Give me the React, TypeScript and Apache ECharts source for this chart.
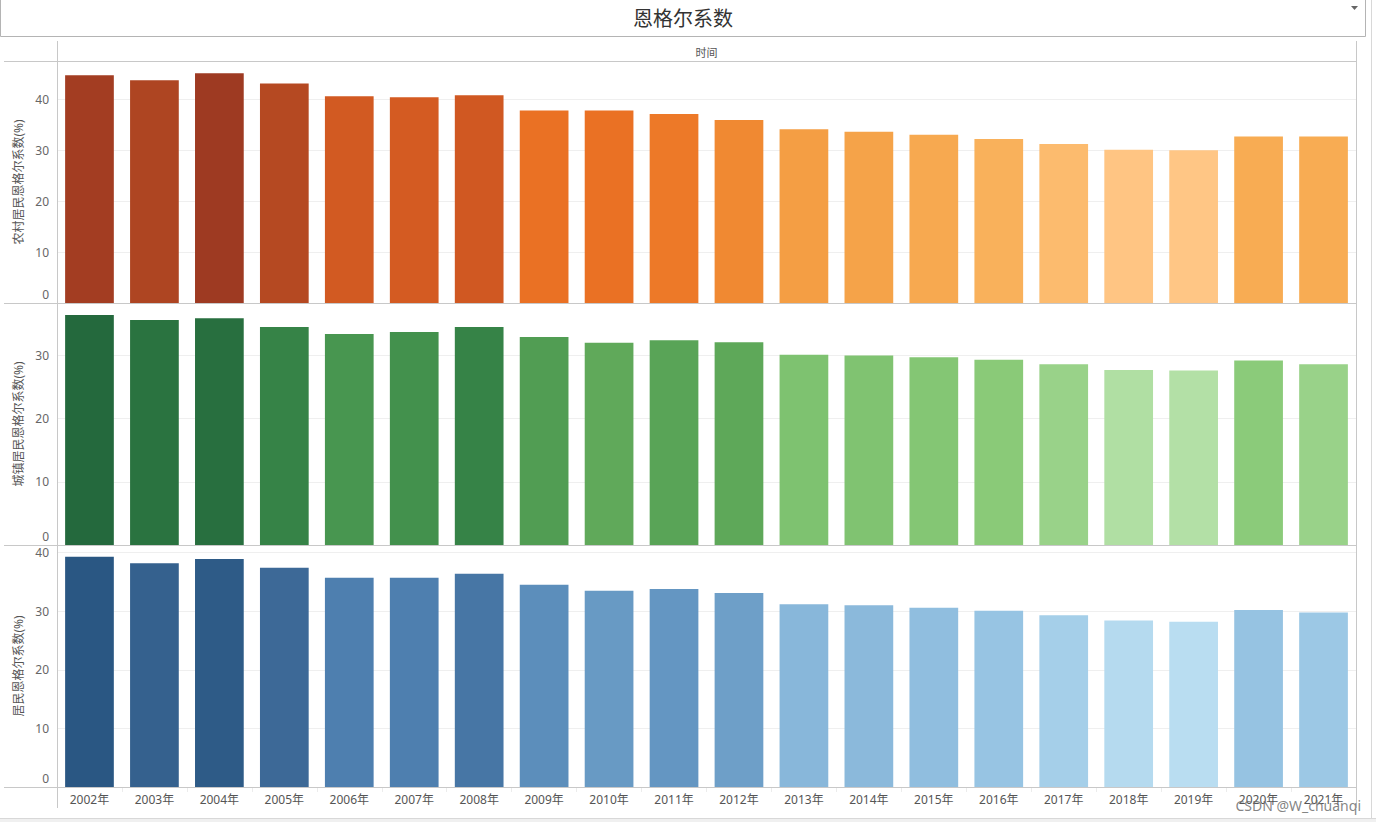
import { useEffect, useRef } from 'react';
import * as echarts from 'echarts';

const years = ['2002年', '2003年', '2004年', '2005年', '2006年', '2007年', '2008年', '2009年', '2010年', '2011年', '2012年', '2013年', '2014年', '2015年', '2016年', '2017年', '2018年', '2019年', '2020年', '2021年'];
const ruralValues = [44.7, 43.7, 45.1, 43.1, 40.6, 40.4, 40.8, 37.8, 37.8, 37.1, 35.9, 34.1, 33.6, 33.0, 32.2, 31.2, 30.1, 30.0, 32.7, 32.7];
const urbanValues = [36.4, 35.6, 35.9, 34.5, 33.4, 33.7, 34.5, 32.9, 32.0, 32.4, 32.1, 30.1, 30.0, 29.7, 29.3, 28.6, 27.7, 27.6, 29.2, 28.6];
const nationalValues = [39.3, 38.2, 38.9, 37.4, 35.7, 35.7, 36.4, 34.5, 33.5, 33.8, 33.1, 31.2, 31.0, 30.6, 30.1, 29.3, 28.4, 28.2, 30.2, 29.8];
const seriesNames = ['农村居民恩格尔系数(%)', '城镇居民恩格尔系数(%)', '居民恩格尔系数(%)'];
const axisMax = [47.5, 38.3, 41.3];
const palettes = [
  ['#ffc685', '#f8ae55', '#f2943a', '#ec7324', '#d85d22', '#bb4d22', '#9e3a22'],
  ['#b3e0a6', '#8dcc7b', '#78be6b', '#60a95a', '#47954f', '#2f7c43', '#24693d'],
  ['#b9ddf1', '#98c5e3', '#7eaed4', '#6597c2', '#4f80b0', '#3c6896', '#2a5783'],
];
const title = '恩格尔系数';
const headerLabel = '时间';
const watermark = 'CSDN @W_chuanqi';

const PLOT_LEFT = 57;
const PLOT_RIGHT = 1356;
const PANEL_TOPS = [61, 303, 545];
const PANEL_H = 242;
const LINE = '#c8c8c8';
const FONT = '"Noto Sans", "Noto Sans CJK SC", sans-serif';

export default function App() {
  const ref = useRef<HTMLDivElement>(null);
  useEffect(() => {
    if (!ref.current) return;
    const chart = echarts.init(ref.current, null, { renderer: 'svg' });
    const allData = [ruralValues, urbanValues, nationalValues];

    const grids = PANEL_TOPS.map((t) => ({ left: PLOT_LEFT, width: PLOT_RIGHT - PLOT_LEFT, top: t, height: PANEL_H }));
    const xAxes = PANEL_TOPS.map((_, i) => ({
      type: 'category',
      gridIndex: i,
      data: years,
      axisLine: { show: false },
      axisTick: i === 2 ? { show: true, length: 5, lineStyle: { color: '#ececec' } } : { show: false },
      axisLabel: i === 2 ? { show: true, color: '#555', fontSize: 12, margin: 6, fontFamily: FONT } : { show: false },
      splitLine: { show: false },
    }));
    const yAxes = PANEL_TOPS.map((_, i) => ({
      type: 'value',
      gridIndex: i,
      min: 0,
      max: axisMax[i],
      interval: 10,
      name: seriesNames[i],
      nameLocation: 'middle',
      nameGap: 30,
      nameTextStyle: { color: '#555', fontSize: 12, fontFamily: FONT },
      axisLine: { show: false },
      axisTick: { show: false },
      splitLine: { show: true, lineStyle: { color: '#efefef', width: 1 } },
      axisLabel: {
        color: '#666',
        fontSize: 12,
        margin: 8,
        fontFamily: FONT,
        showMaxLabel: false,
        formatter: (v: number) => (v === 0 ? '{z|0}' : String(v)),
        rich: { z: { padding: [0, 0, 18, 0], color: '#666', fontSize: 12, fontFamily: FONT } },
      },
    }));
    const series = allData.map((d, i) => ({
      type: 'bar',
      name: seriesNames[i],
      xAxisIndex: i,
      yAxisIndex: i,
      data: d,
      barCategoryGap: '25%',
    }));
    const visualMaps = allData.map((d, i) => ({
      type: 'continuous',
      show: false,
      seriesIndex: i,
      dimension: 1,
      min: Math.min(...d),
      max: Math.max(...d),
      inRange: { color: palettes[i] },
    }));

    const hLine = (y: number) => ({
      type: 'line',
      shape: { x1: 4, y1: y + 0.5, x2: PLOT_RIGHT + 0.5, y2: y + 0.5 },
      style: { stroke: LINE, lineWidth: 1 },
      z: 100,
    });

    const graphic = [
      { type: 'rect', shape: { x: 0.5, y: -2, width: 1365, height: 38.5 }, style: { fill: '#fff', stroke: '#b4b4b4', lineWidth: 1 } },
      { type: 'text', x: 683, y: 17, style: { text: title, fontSize: 20, fill: '#333', fontFamily: '"Noto Sans CJK SC", sans-serif', textAlign: 'center', textVerticalAlign: 'middle' } },
      { type: 'polygon', shape: { points: [[1351, 6], [1358, 6], [1354.5, 10]] }, style: { fill: '#666' } },
      { type: 'text', x: (PLOT_LEFT + PLOT_RIGHT) / 2, y: 52, style: { text: headerLabel, fontSize: 11, fill: '#555', fontFamily: '"Noto Sans CJK SC", sans-serif', textAlign: 'center', textVerticalAlign: 'middle' } },
      { type: 'line', shape: { x1: PLOT_LEFT + 0.5, y1: 41, x2: PLOT_LEFT + 0.5, y2: 808 }, style: { stroke: LINE, lineWidth: 1 }, z: 100 },
      { type: 'line', shape: { x1: PLOT_RIGHT + 0.5, y1: 41, x2: PLOT_RIGHT + 0.5, y2: 808 }, style: { stroke: LINE, lineWidth: 1 }, z: 100 },
      hLine(61),
      hLine(303),
      hLine(545),
      hLine(787),
      { type: 'line', shape: { x1: 1371.5, y1: 0, x2: 1371.5, y2: 822 }, style: { stroke: '#d8d8d8', lineWidth: 1 } },
      { type: 'rect', shape: { x: 0, y: 818, width: 1376, height: 4 }, style: { fill: '#f0f0f0' } },
      { type: 'line', shape: { x1: 0, y1: 818.5, x2: 1376, y2: 818.5 }, style: { stroke: '#d8d8d8', lineWidth: 1 } },
      { type: 'text', x: 1361, y: 805, z: 200, style: { text: watermark, fontSize: 14, fill: 'rgba(110,110,110,0.85)', fontFamily: '"Noto Sans", sans-serif', textAlign: 'right', textVerticalAlign: 'middle' } },
    ];

    chart.setOption({
      animation: false,
      backgroundColor: '#fff',
      grid: grids,
      xAxis: xAxes,
      yAxis: yAxes,
      visualMap: visualMaps,
      series,
      graphic,
    } as any);
    return () => chart.dispose();
  }, []);
  return <div ref={ref} style={{ position: 'fixed', left: 0, top: 0, width: 1376, height: 822 }} />;
}
